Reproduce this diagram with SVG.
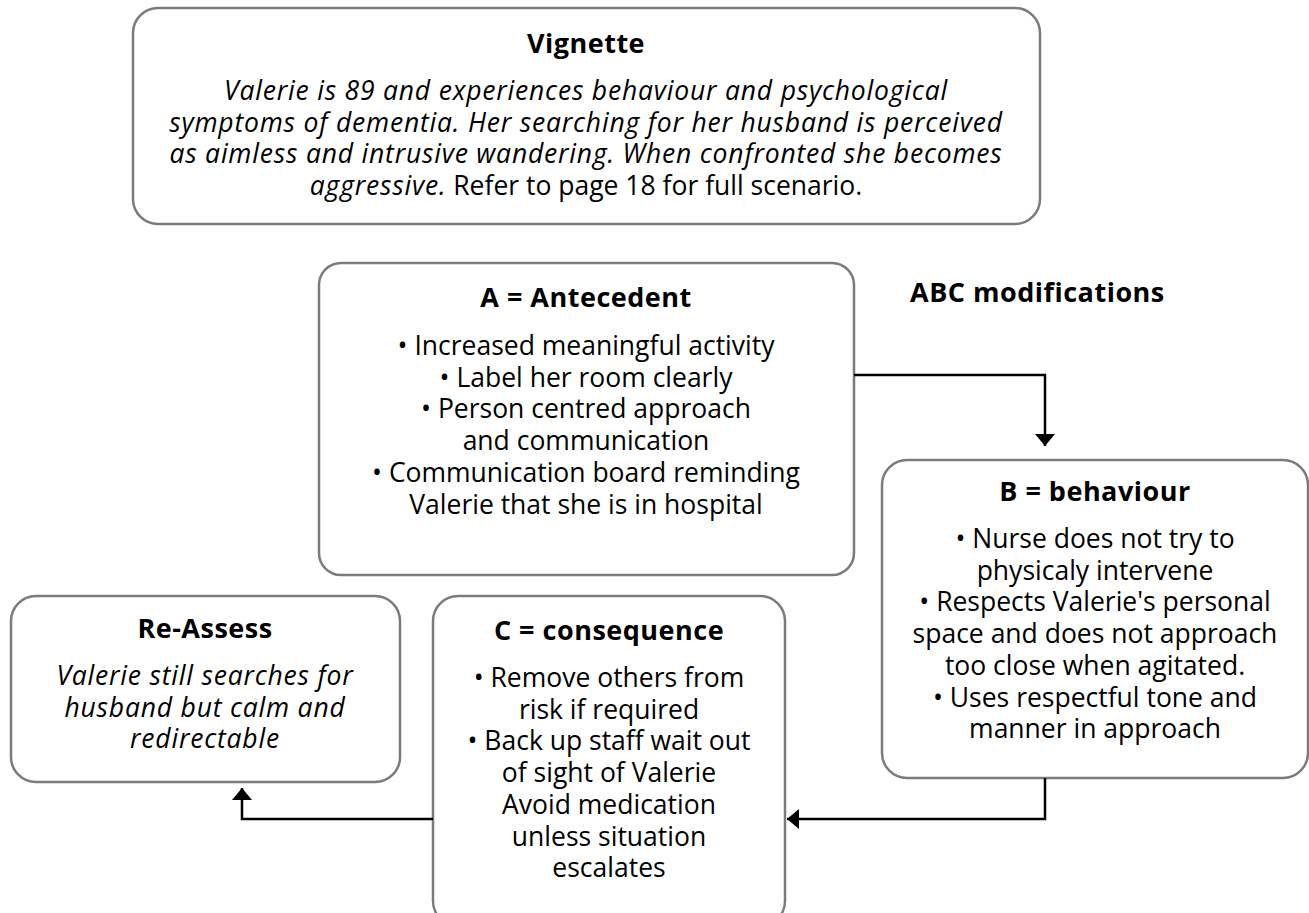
<svg xmlns="http://www.w3.org/2000/svg" width="1309" height="913" viewBox="0 0 1309 913">
<defs>
<style>
.box{fill:#fff;stroke:#7b7b7b;stroke-width:2.5}
.t{font-family:"Open Sans","Noto Sans","DejaVu Sans",sans-serif;font-size:26.5px;fill:#000;text-anchor:middle}
.h{font-weight:bold;font-size:27px;letter-spacing:0.5px}
.i{font-style:italic;letter-spacing:0.8px}
.conn{fill:none;stroke:#000;stroke-width:2.5}
</style>
<marker id="arr" viewBox="0 0 12 20" refX="12" refY="10" markerWidth="12" markerHeight="20" markerUnits="userSpaceOnUse" orient="auto">
<path d="M0,0 L12,10 L0,20 Z" fill="#000"/>
</marker>
</defs>
<rect width="1309" height="913" fill="#fff"/>

<g id="vignette">
<rect class="box" x="133" y="8" width="907" height="216" rx="25"/>
<text class="t h" x="586" y="53">Vignette</text>
<text class="t i" x="586" y="100">Valerie is 89 and experiences behaviour and psychological</text>
<text class="t i" x="586" y="131.7">symptoms of dementia. Her searching for her husband is perceived</text>
<text class="t i" x="586" y="163.4">as aimless and intrusive wandering. When confronted she becomes</text>
<text class="t" x="586" y="195.1"><tspan class="i">aggressive.</tspan> Refer to page 18 for full scenario.</text>
</g>

<g id="antecedent">
<rect class="box" x="319" y="263" width="535" height="312" rx="22"/>
<text class="t h" x="586" y="307">A = Antecedent</text>
<text class="t" x="586" y="355">• Increased meaningful activity</text>
<text class="t" x="586" y="386.7">• Label her room clearly</text>
<text class="t" x="586" y="418.4">• Person centred approach</text>
<text class="t" x="586" y="450.1">and communication</text>
<text class="t" x="586" y="481.8">• Communication board reminding</text>
<text class="t" x="586" y="513.5">Valerie that she is in hospital</text>
</g>

<g id="abc-label">
<text class="t h" x="910" y="302" style="text-anchor:start">ABC modifications</text>
</g>

<g id="behaviour">
<rect class="box" x="882" y="460" width="426" height="318" rx="25"/>
<text class="t h" x="1095" y="501">B = behaviour</text>
<text class="t" x="1095" y="548">• Nurse does not try to</text>
<text class="t" x="1095" y="579.7">physicaly intervene</text>
<text class="t" x="1095" y="611.4">• Respects Valerie's personal</text>
<text class="t" x="1095" y="643.1">space and does not approach</text>
<text class="t" x="1095" y="674.8">too close when agitated.</text>
<text class="t" x="1095" y="706.5">• Uses respectful tone and</text>
<text class="t" x="1095" y="738.2">manner in approach</text>
</g>

<g id="consequence">
<rect class="box" x="433" y="596" width="352" height="330" rx="25"/>
<text class="t h" x="609" y="640">C = consequence</text>
<text class="t" x="609" y="687">• Remove others from</text>
<text class="t" x="609" y="718.7">risk if required</text>
<text class="t" x="609" y="750.4">• Back up staff wait out</text>
<text class="t" x="609" y="782.1">of sight of Valerie</text>
<text class="t" x="609" y="813.8">Avoid medication</text>
<text class="t" x="609" y="845.5">unless situation</text>
<text class="t" x="609" y="877.2">escalates</text>
</g>

<g id="reassess">
<rect class="box" x="11" y="596" width="389" height="186" rx="25"/>
<text class="t h" x="205" y="638">Re-Assess</text>
<text class="t i" x="205" y="685">Valerie still searches for</text>
<text class="t i" x="205" y="716.7">husband but calm and</text>
<text class="t i" x="205" y="748.4">redirectable</text>
</g>

<g id="connectors">
<path class="conn" d="M854,375 H1045 V446" marker-end="url(#arr)"/>
<path class="conn" d="M1045,778 V819 H787" marker-end="url(#arr)"/>
<path class="conn" d="M433,819 H242 V788" marker-end="url(#arr)"/>
</g>
</svg>
